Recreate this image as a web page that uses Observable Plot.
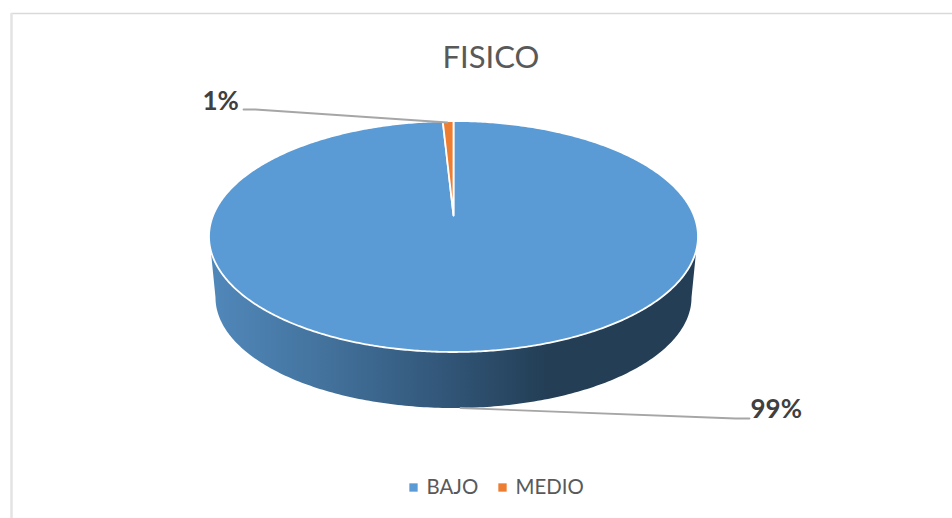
<!DOCTYPE html>
<html>
<head>
<meta charset="utf-8">
<script src="https://cdn.jsdelivr.net/npm/d3@7"></script>
<script src="https://cdn.jsdelivr.net/npm/@observablehq/plot@0.6"></script>
<style>
html,body{margin:0;padding:0;background:#fff;overflow:hidden}
svg{display:block}
</style>
</head>
<body>
<div id="chart"></div>
<script>
const title = "FISICO";
const categories = ["BAJO", "MEDIO"];
const shares = [99.3, 0.7];
const pctLabels = ["99%", "1%"];
const colors = ["#5b9bd5", "#ed7d31"];

const W = 952, H = 518;
const top3d = {cx: 453, cy: 236, rx: 244.5, ry: 115.5, apexY: 215};
const base3d = {cx: 453, cy: 297, rx: 238, ry: 110.5};
const FONT = "Lato, Carlito, Calibri, sans-serif";

// top face slices
const arcs = d3.pie().sort(null).startAngle(0).endAngle(2 * Math.PI).value(d => d)(shares);
const sliceRows = arcs.flatMap((a, i) => {
  const n = Math.max(2, Math.ceil((a.endAngle - a.startAngle) / 0.01));
  const rows = [{name: categories[i], x: top3d.cx, y: top3d.apexY}];
  for (let k = 0; k <= n; k++) {
    const t = a.startAngle + (a.endAngle - a.startAngle) * k / n;
    rows.push({name: categories[i], x: top3d.cx + top3d.rx * Math.sin(t), y: top3d.cy - top3d.ry * Math.cos(t)});
  }
  return rows;
});

// side wall
const sideRows = [];
{
  const a0 = Math.asin(14 / top3d.ry);
  sideRows.push({x: top3d.cx - top3d.rx * Math.cos(a0), y: top3d.cy + 14});
  for (let k = 0; k <= 200; k++) {
    const t = Math.PI - Math.PI * k / 200;
    sideRows.push({x: base3d.cx + base3d.rx * Math.cos(t), y: base3d.cy + base3d.ry * Math.sin(t)});
  }
  sideRows.push({x: top3d.cx + top3d.rx * Math.cos(a0), y: top3d.cy + 14});
}

const gradient = () => {
  const ns = "http://www.w3.org/2000/svg";
  const defs = document.createElementNS(ns, "defs");
  const g = document.createElementNS(ns, "linearGradient");
  g.setAttribute("id", "sideGrad");
  g.setAttribute("gradientUnits", "userSpaceOnUse");
  g.setAttribute("x1", 215); g.setAttribute("x2", 548);
  g.setAttribute("y1", 0); g.setAttribute("y2", 0);
  [[0, "#5087b9"], [0.3, "#44749f"], [0.7, "#315577"], [1, "#233e55"]].forEach(([o, c]) => {
    const s = document.createElementNS(ns, "stop");
    s.setAttribute("offset", o); s.setAttribute("stop-color", c);
    g.appendChild(s);
  });
  defs.appendChild(g);
  return defs;
};

const leaders = [
  {id: "BAJO", x: 460, y: 407.5},
  {id: "BAJO", x: 735, y: 418},
  {id: "BAJO", x: 749, y: 418},
  {id: "MEDIO", x: 447, y: 122},
  {id: "MEDIO", x: 255, y: 109},
  {id: "MEDIO", x: 243, y: 109}
];

const labels = [
  {t: pctLabels[0], x: 750, y: 409},
  {t: pctLabels[1], x: 202, y: 101}
];

const legend = [
  {name: categories[0], sx: 413, tx: 426},
  {name: categories[1], sx: 502, tx: 515}
];

const plot = Plot.plot({
  width: W, height: H,
  margin: 0,
  x: {domain: [0, W], range: [0, W], axis: null},
  y: {domain: [0, H], range: [0, H], axis: null},
  color: {domain: categories, range: colors},
  style: {background: "#fff", fontFamily: FONT},
  marks: [
    gradient,
    Plot.ruleY([13], {x1: 11, x2: W, stroke: "#d9d9d9", strokeWidth: 1.5}),
    Plot.ruleX([11], {y1: 13, y2: H, stroke: "#e3e3e3", strokeWidth: 2.5}),
    Plot.line(sideRows, {x: "x", y: "y", fill: "url(#sideGrad)", stroke: "none", curve: "linear-closed"}),
    Plot.line(sliceRows, {x: "x", y: "y", z: "name", fill: "name", stroke: "#fff", strokeWidth: 1.8, curve: "linear-closed"}),
    Plot.line(leaders, {x: "x", y: "y", z: "id", stroke: "#a6a6a6", strokeWidth: 1.8}),
    Plot.text(labels, {x: "x", y: "y", text: "t", textAnchor: "start", fontSize: 26, fontWeight: 700, fill: "#404040", fontFamily: FONT}),
    Plot.text([title], {x: [490.5], y: [58], text: d => d, fontSize: 31, fill: "#595959", fontFamily: FONT}),
    Plot.dot(legend, {x: "sx", y: 487, fill: "name", symbol: "square", r: 4.7, stroke: "none"}),
    Plot.text(legend, {x: "tx", y: 487, text: "name", textAnchor: "start", fontSize: 20.4, fill: "#595959", fontFamily: FONT})
  ]
});
document.getElementById("chart").appendChild(plot);
</script>
</body>
</html>
